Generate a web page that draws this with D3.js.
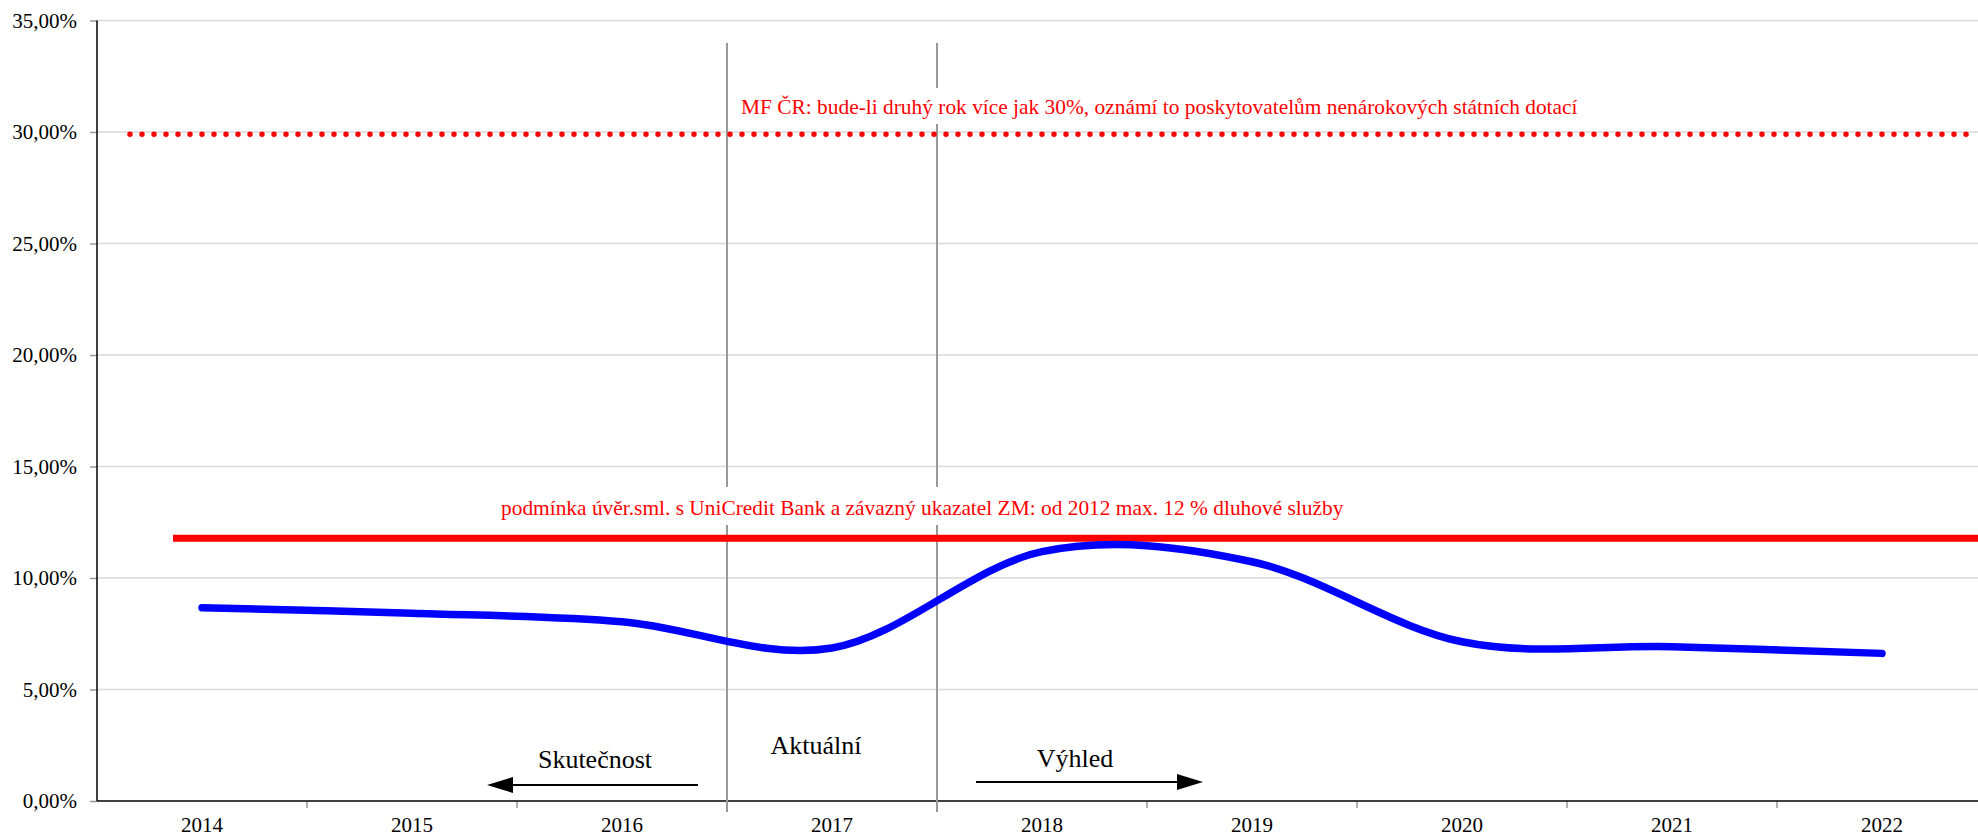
<!DOCTYPE html>
<html><head><meta charset="utf-8">
<script src="https://cdn.jsdelivr.net/npm/d3@7"></script>
<style>body{margin:0;background:#fff}svg{display:block}text{font-family:"Liberation Serif","Times New Roman",serif}</style>
</head><body>
<svg id="c" width="1978" height="837"></svg>
<script>
const years = ["2014","2015","2016","2017","2018","2019","2020","2021","2022"];
const debtRatio = [8.67, 8.42, 8.04, 6.86, 11.18, 10.73, 7.14, 6.92, 6.62];
const yTicks = [0,5,10,15,20,25,30,35];
const limitMF = 29.9;
const limitBank = 11.78;
const labelMF = "MF ČR: bude-li druhý rok více jak 30%, oznámí to poskytovatelům nenárokových státních dotací";
const labelBank = "podmínka úvěr.sml. s UniCredit Bank a závazný ukazatel ZM: od 2012 max. 12 % dluhové služby";
const periodLabels = ["Skutečnost","Aktuální","Výhled"];

const svg = d3.select("#c");
const W = 1978, left = 97, bandW = 210;
const x = d3.scaleBand().domain(years).range([left, left + bandW*years.length]).padding(0);
const y = d3.scaleLinear().domain([0,35]).range([801, 20.5]);
const cx = d => x(d) + x.bandwidth()/2;
const fmt = v => d3.format(".2f")(v).replace(".", ",") + "%";

// gridlines
svg.append("g").selectAll("line").data(yTicks.filter(t=>t>0)).join("line")
  .attr("x1", left).attr("x2", W).attr("y1", d=>y(d)).attr("y2", d=>y(d))
  .attr("stroke", "#d9d9d9").attr("stroke-width", 1.5);

// y axis
const ya = svg.append("g").attr("transform", `translate(${left},0)`)
  .call(d3.axisLeft(y).tickValues(yTicks).tickFormat(fmt).tickSize(7).tickPadding(13));
ya.attr("font-family", null);
ya.select(".domain").remove();
ya.selectAll(".tick line").attr("stroke", "#999").attr("stroke-width", 1.5);
ya.selectAll("text").attr("font-size", 21).attr("fill", "#000");
svg.append("line").attr("x1", left).attr("x2", left).attr("y1", y(35)).attr("y2", y(0))
  .attr("stroke", "#000").attr("stroke-width", 1.5);

// x axis
const xa = svg.append("g").attr("transform", `translate(0,${y(0)})`)
  .call(d3.axisBottom(x).tickSize(0).tickPadding(16));
xa.attr("font-family", null);
xa.select(".domain").remove();
xa.selectAll("text").attr("font-size", 21).attr("fill", "#000");
svg.append("g").selectAll("line").data(years.slice(1)).join("line")
  .attr("x1", d=>x(d)).attr("x2", d=>x(d)).attr("y1", y(0)).attr("y2", y(0)+7)
  .attr("stroke", "#999").attr("stroke-width", 1.5);
svg.append("line").attr("x1", left).attr("x2", W).attr("y1", y(0)).attr("y2", y(0))
  .attr("stroke", "#000").attr("stroke-width", 1.5);

// period separators
[x("2017"), x("2018")].forEach(px => {
  svg.append("line").attr("x1", px).attr("x2", px).attr("y1", 43).attr("y2", 812)
    .attr("stroke", "#999").attr("stroke-width", 2);
});

// threshold lines
svg.append("line").attr("x1", 130).attr("x2", W).attr("y1", y(limitMF)).attr("y2", y(limitMF))
  .attr("stroke", "#ff0000").attr("stroke-width", 5.5).attr("stroke-linecap", "round")
  .attr("stroke-dasharray", "0,12");
svg.append("line").attr("x1", 173).attr("x2", W).attr("y1", y(limitBank)).attr("y2", y(limitBank))
  .attr("stroke", "#ff0000").attr("stroke-width", 7);

// annotation labels with white background
function label(txt, xStart, base, fs, box) {
  svg.append("rect").attr("x", xStart - 6).attr("y", box[0]).attr("width", box[2]).attr("height", box[1]-box[0]).attr("fill", "#fff");
  svg.append("text").attr("x", xStart).attr("y", base).attr("font-size", fs).attr("fill", "#ff0000").text(txt);
}
label(labelMF, 741, 114, 21.4, [88, 124, 850]);
label(labelBank, 501, 515, 21.4, [487, 525, 852]);

// series
const line = d3.line().x(d=>cx(d[0])).y(d=>y(d[1])).curve(d3.curveCatmullRom.alpha(0));
svg.append("path").datum(years.map((yr,i)=>[yr, debtRatio[i]]))
  .attr("d", line).attr("fill", "none").attr("stroke", "#0000ff")
  .attr("stroke-width", 7.5).attr("stroke-linecap", "round").attr("stroke-linejoin", "round");

// period labels and arrows
svg.append("text").attr("x", 595).attr("y", 768).attr("text-anchor", "middle").attr("font-size", 26).text(periodLabels[0]);
svg.append("text").attr("x", 816).attr("y", 754).attr("text-anchor", "middle").attr("font-size", 26).text(periodLabels[1]);
svg.append("text").attr("x", 1075).attr("y", 767).attr("text-anchor", "middle").attr("font-size", 26).text(periodLabels[2]);

function arrow(x1, x2, yy) {
  const dir = Math.sign(x2 - x1), hl = 26, hw = 8;
  svg.append("line").attr("x1", x1).attr("x2", x2 - dir*hl).attr("y1", yy).attr("y2", yy)
    .attr("stroke", "#000").attr("stroke-width", 2);
  svg.append("path").attr("d", `M${x2},${yy} L${x2-dir*hl},${yy-hw} L${x2-dir*hl},${yy+hw} Z`).attr("fill", "#000");
}
arrow(698, 487, 785);
arrow(976, 1203, 782);
</script>
</body></html>
